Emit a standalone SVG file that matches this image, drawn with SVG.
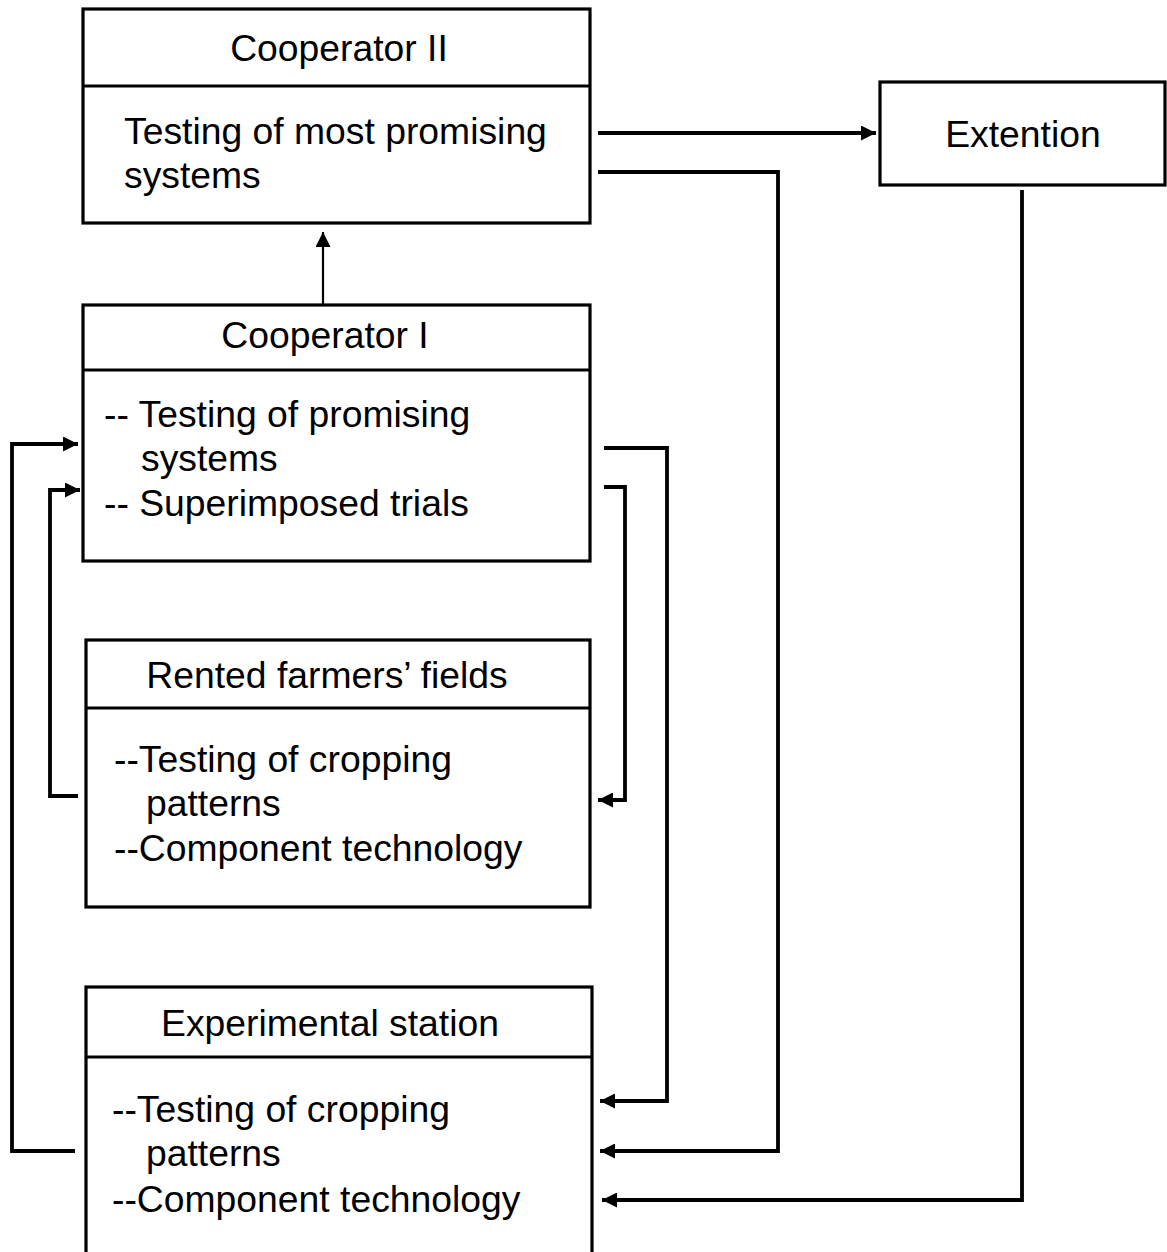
<svg xmlns="http://www.w3.org/2000/svg" width="1167" height="1252" viewBox="0 0 1167 1252">
  <style>
    .box { fill: #fff; stroke: #000; stroke-width: 3.2; }
    .div { stroke: #000; stroke-width: 3.2; }
    .t { font-family: "Liberation Sans", Arial, sans-serif; font-size: 37.3px; fill: #000; }
    .c { text-anchor: middle; }
    .wire { fill: none; stroke: #000; stroke-width: 3.8; }
    .thin { fill: none; stroke: #000; stroke-width: 2.2; }
  </style>
  <defs>
    <marker id="arrow" markerUnits="userSpaceOnUse" markerWidth="17" markerHeight="15" refX="15" refY="7.5" orient="auto">
      <path d="M0,0 L15,7.5 L0,15 Z" fill="#000"/>
    </marker>
  </defs>

  <g id="cooperator-2">
    <rect class="box" x="83" y="9" width="507" height="214"/>
    <line class="div" x1="83" y1="86" x2="590" y2="86"/>
    <text class="t c" x="339" y="61">Cooperator II</text>
    <text class="t" x="124" y="144">Testing of most promising</text>
    <text class="t" x="124" y="188">systems</text>
  </g>

  <g id="extention">
    <rect class="box" x="880" y="82" width="285" height="103"/>
    <text class="t c" x="1023" y="147">Extention</text>
  </g>

  <g id="cooperator-1">
    <rect class="box" x="83" y="305" width="507" height="256"/>
    <line class="div" x1="83" y1="370" x2="590" y2="370"/>
    <text class="t c" x="325" y="348">Cooperator I</text>
    <text class="t" x="104" y="427">-- Testing of promising</text>
    <text class="t" x="141" y="471">systems</text>
    <text class="t" x="104" y="516">-- Superimposed trials</text>
  </g>

  <g id="rented-fields">
    <rect class="box" x="86" y="640" width="504" height="267"/>
    <line class="div" x1="86" y1="708" x2="590" y2="708"/>
    <text class="t c" x="327" y="688">Rented farmers’ fields</text>
    <text class="t" x="114" y="772">--Testing of cropping</text>
    <text class="t" x="146" y="816">patterns</text>
    <text class="t" x="114" y="861">--Component technology</text>
  </g>

  <g id="experimental-station">
    <rect class="box" x="86" y="987" width="506" height="270"/>
    <line class="div" x1="86" y1="1057" x2="592" y2="1057"/>
    <text class="t c" x="330" y="1036">Experimental station</text>
    <text class="t" x="112" y="1122">--Testing of cropping</text>
    <text class="t" x="146" y="1166">patterns</text>
    <text class="t" x="112" y="1212">--Component technology</text>
  </g>

  <g id="connectors">
    <path class="thin" d="M323,304 V232" marker-end="url(#arrow)"/>
    <path class="wire" d="M598,133 H876" marker-end="url(#arrow)"/>
    <path class="wire" d="M598,172 H778 V1151 H600" marker-end="url(#arrow)"/>
    <path class="wire" d="M1022,190 V1200 H602" marker-end="url(#arrow)"/>
    <path class="wire" d="M604,448 H667 V1101 H600" marker-end="url(#arrow)"/>
    <path class="wire" d="M604,487 H625 V800 H598" marker-end="url(#arrow)"/>
    <path class="wire" d="M75,1151 H12 V444 H78" marker-end="url(#arrow)"/>
    <path class="wire" d="M78,796 H50 V490 H80" marker-end="url(#arrow)"/>
  </g>
</svg>
